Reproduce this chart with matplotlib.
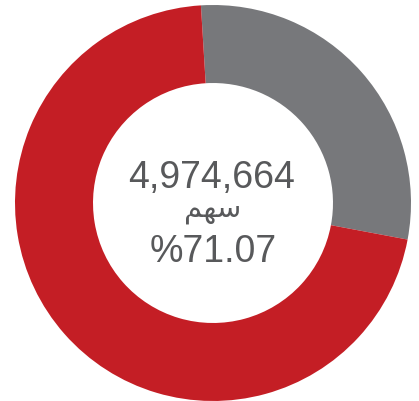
import matplotlib
matplotlib.use("Agg")
import matplotlib.pyplot as plt

# Data
labels = ["Other", "Share"]
shares = [28.93, 71.07]
colors = ["#77787B", "#C41E25"]
value_text = "4,974,664"
unit_text = "\uFEE2\uFEEC\uFEB3"  # "سهم" in shaped presentation forms (visual order)
pct_text = "%71.07"

W, H = 419, 401
cx, cy, R = 213, 203, 198

fig = plt.figure(figsize=(W / 100, H / 100), dpi=100)
ax = fig.add_axes([0, 0, 1, 1])
ax.pie(shares, colors=colors, startangle=93.5, counterclock=False,
       radius=1.0, wedgeprops=dict(width=0.394, linewidth=0))
ax.set_xlim(-cx / R, (W - cx) / R)
ax.set_ylim(-(H - cy) / R, cy / R)
ax.set_aspect('auto')
ax.axis('off')

tc = "#58595B"
def px(x, y):
    return (x - cx) / R, (cy - y) / R

ax.text(*px(212, 178), value_text, ha='center', va='center', fontsize=27,
        color=tc, family=['Liberation Sans', 'DejaVu Sans'])
ax.text(*px(213, 210), unit_text, ha='center', va='center', fontsize=21,
        color=tc, family=['DejaVu Sans'])
ax.text(*px(213, 252), pct_text, ha='center', va='center', fontsize=27,
        color=tc, family=['Liberation Sans', 'DejaVu Sans'])

fig.savefig("out.png", dpi=100)
